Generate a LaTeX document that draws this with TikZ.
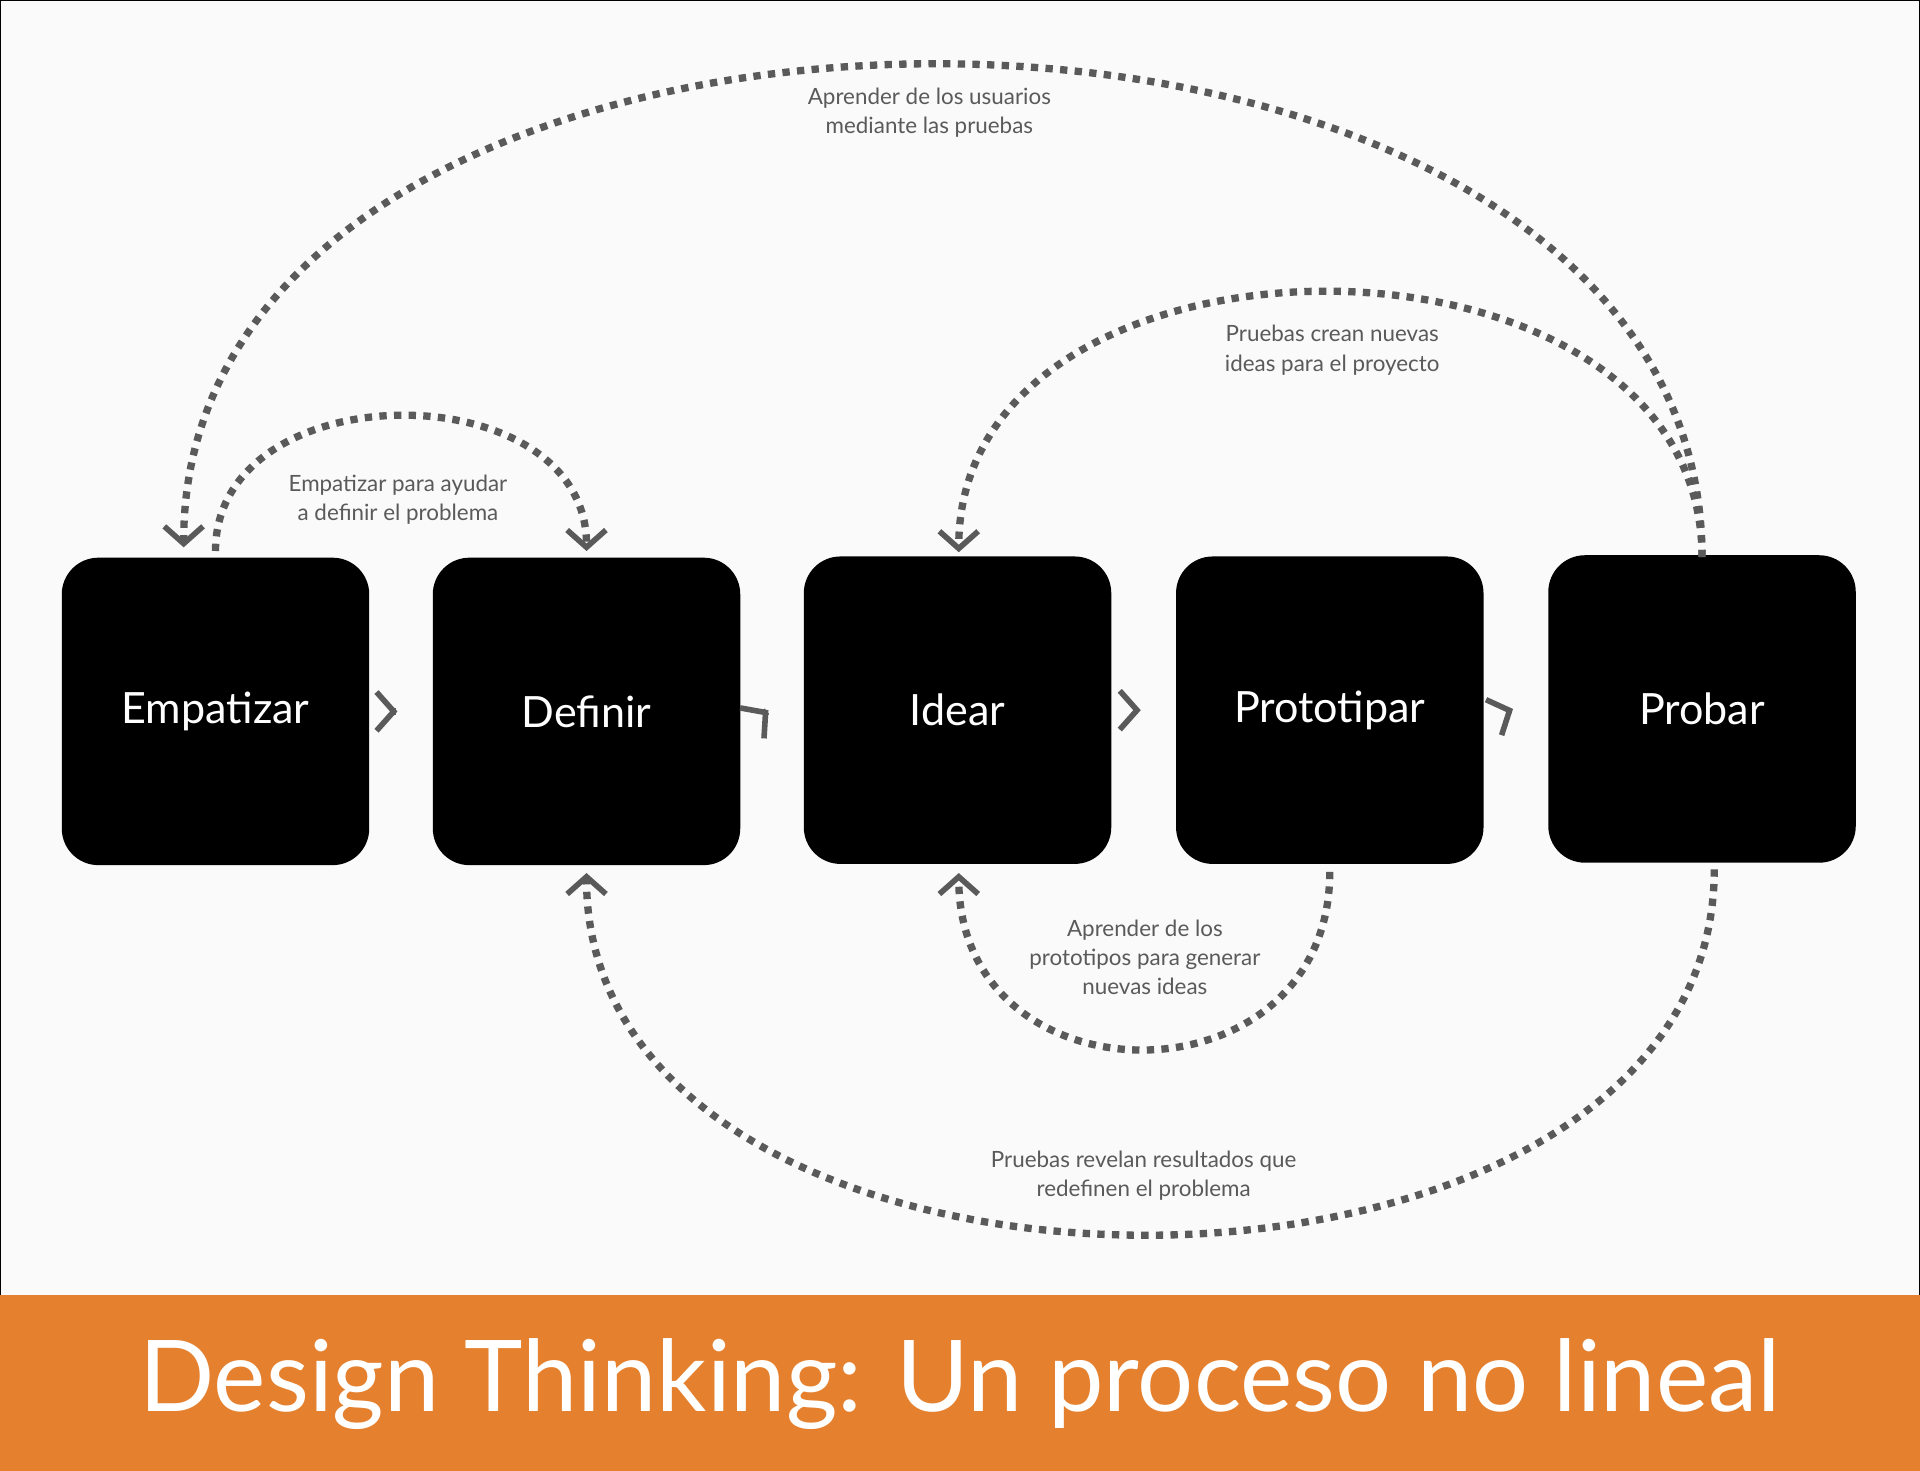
\documentclass[tikz,border=0pt]{standalone}
\usepackage{fontspec}
\setmainfont{Lato}
\usetikzlibrary{arrows.meta}
\definecolor{loopgray}{HTML}{5A5A5A}
\definecolor{bandorange}{HTML}{E5812E}
\definecolor{paper}{HTML}{FAFAFA}
\tikzset{
  stage/.style={fill=black, rounded corners=8.5pt, minimum width=71.4pt, minimum height=71.4pt, text=white, font=\fontsize{10}{12}\selectfont, inner sep=0pt},
  loop/.style={draw=loopgray, line width=1.7pt, dash pattern=on 1.7pt off 1.7pt, -{Straight Barb[length=4pt, width=9pt, line width=1.3pt]}},
  stepline/.style={loop},
  note/.style={text=loopgray, align=center, font=\fontsize{5.2}{6.8}\selectfont}
}
\begin{document}
\begin{tikzpicture}[x=0.01cm, y=-0.01cm]
\useasboundingbox (0,0) rectangle (1568,1201);
%background:
\fill[paper] (0,0) rectangle (1568,1058);
\draw[black, line width=0.4pt] (0.5,0.5) rectangle (1567.5,1058);
\fill[bandorange] (0,1058) rectangle (1568,1201);
\node[text=white, font=\fontsize{23}{28}\selectfont] (title) at (784,1130) {Design Thinking: Un proceso no lineal};
%stages:
\node[stage] (emp) at (176,581) {Empatizar};
\node[stage] (def) at (479,581) {Definir};
\node[stage] (ide) at (782,580) {Idear};
\node[stage] (pro) at (1086,580) {Prototipar};
\node[stage] (prb) at (1390,579) {Probar};
%steps:
\draw[stepline] ([xshift=6]emp.east) -- ([xshift=-8]def.west);
\draw[stepline] ([xshift=6]def.east) -- ([xshift=-8]ide.west);
\draw[stepline] ([xshift=6]ide.east) -- ([xshift=-8]pro.west);
\draw[stepline] ([xshift=6]pro.east) -- ([xshift=-8]prb.west);
%loops:
\coordinate (a1) at (1390,455);
\coordinate (a2) at (150,447);
\draw[loop] (a1) .. controls (1390,-80) and (150,-80) .. (a2);
\node[note] (n1) at (759,92) {Aprender de los usuarios\\mediante las pruebas};
\coordinate (b1) at (176,450);
\coordinate (b2) at (479,450);
\draw[loop] (b1) .. controls (176,303) and (479,303) .. (b2);
\node[note] (n2) at (325,408) {Empatizar para ayudar\\a definir el problema};
\coordinate (c1) at (1390,455);
\coordinate (c2) at (783,451);
\draw[loop] (c1) .. controls (1390,167) and (783,167) .. (c2);
\node[note] (n3) at (1088,286) {Pruebas crean nuevas\\ideas para el proyecto};
\coordinate (d1) at (1086,712);
\coordinate (d2) at (783,713);
\draw[loop] (d1) .. controls (1086,905) and (783,905) .. (d2);
\node[note] (n4) at (935,782) {Aprender de los\\prototipos para generar\\nuevas ideas};
\coordinate (e1) at (1400,710);
\coordinate (e2) at (479,713);
\draw[loop] (e1) .. controls (1400,1107) and (479,1107) .. (e2);
\node[note] (n5) at (934,960) {Pruebas revelan resultados que\\redefinen el problema};
\end{tikzpicture}
\end{document}
